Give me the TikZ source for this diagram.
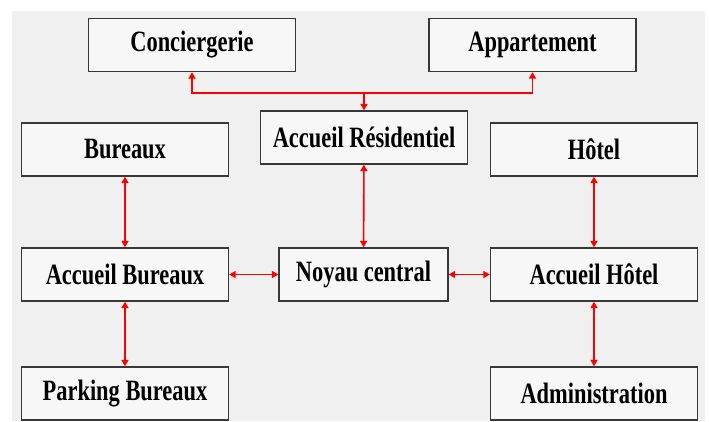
\documentclass[tikz,border=0pt]{standalone}
\usepackage{fontspec}
\usetikzlibrary{arrows.meta}
\newfontfamily\blocfont{Liberation Serif}[FakeStretch=0.76]
\definecolor{fond}{HTML}{F0F0F0}
\definecolor{bord}{HTML}{383838}
\tikzset{
  bloc/.style={draw=bord,line width=1.3pt,fill=white!97!black,minimum width=207pt,
    minimum height=53pt,inner sep=0pt,font=\blocfont\bfseries\fontsize{29.5}{30}\selectfont},
  lien/.style={red,line width=1.6pt,{Triangle[length=6.5pt,width=7pt]}-{Triangle[length=6.5pt,width=7pt]}},
  lien1/.style={red,line width=1.6pt,-{Triangle[length=6.5pt,width=7pt]}}
}
\begin{document}
\begin{tikzpicture}[x=1pt,y=-1pt]
\useasboundingbox (0,0) rectangle (709,421);
\fill[fond] (12,11) rectangle (705,421);
\node[bloc] (conc) at (192,45) {Conciergerie};
\node[bloc] (appart) at (532.5,45) {Appartement};
\node[bloc] (resid) at (364,137.5) {Accueil Résidentiel};
\node[bloc] (bur) at (125,149.5) {Bureaux};
\node[bloc] (hotel) at (594,149.5) {Hôtel};
\node[bloc] (accbur) at (125,274.5) {Accueil Bureaux};
\node[bloc,minimum width=169pt] (noyau) at (363.5,274.5) {Noyau central};
\node[bloc] (acchotel) at (594,274.5) {Accueil Hôtel};
\node[bloc] (parking) at (125,393.5) {Parking Bureaux};
\node[bloc] (admin) at (594,393.5) {Administration};
\coordinate (nd) at (364,93);
\draw[lien1] (nd) -| (conc.south);
\draw[lien1] (nd) -| (appart.south);
\draw[lien1] (nd) -- (resid.north);
\draw[lien] (resid) -- (noyau);
\draw[lien] (bur) -- (accbur);
\draw[lien] (accbur) -- (parking);
\draw[lien] (hotel) -- (acchotel);
\draw[lien] (acchotel) -- (admin);
\draw[lien] (accbur) -- (noyau);
\draw[lien] (noyau) -- (acchotel);
\end{tikzpicture}
\end{document}
